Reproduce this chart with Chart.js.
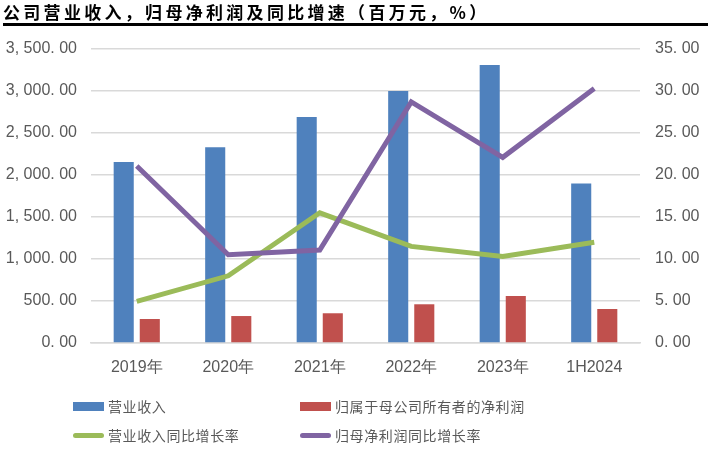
<!DOCTYPE html>
<html>
<head>
<meta charset="utf-8">
<script src="https://cdn.jsdelivr.net/npm/chart.js@4.4.1/dist/chart.umd.min.js"></script>
<style>
  body { margin: 0; background: #fff; }
  #wrap { position: relative; width: 708px; height: 454px; overflow: hidden; }
  #title {
    position: absolute; left: 3px; top: 0; width: 705px; height: 23px;
    font-family: "Noto Sans CJK SC", sans-serif; font-weight: bold; font-size: 17px;
    letter-spacing: 3.3px; line-height: 23px; color: #000;
    border-bottom: 3px solid #000;
  }
  #chartBox { position: absolute; left: 0; top: 0; width: 708px; height: 454px; }
  #legend {
    position: absolute; left: 0; top: 392px; width: 708px;
    font-family: "Noto Sans CJK SC", sans-serif; font-size: 14px; color: #595959;
    letter-spacing: 0.6px;
  }
  .item { position: absolute; height: 20px; line-height: 20px; white-space: nowrap; }
  .sw { position: absolute; left: 0; width: 31px; }
  .lbl { position: absolute; left: 35px; top: 0; }
</style>
</head>
<body>
<div id="wrap">
  <div id="chartBox"><canvas id="mainChart"></canvas></div>
  <div id="title">公司营业收入，归母净利润及同比增速（百万元，%）</div>
  <div id="legend"></div>
</div>
<script>
// categories and series
const categories = ['2019年', '2020年', '2021年', '2022年', '2023年', '1H2024'];
const revenue = [2155, 2330, 2690, 3000, 3310, 1900];          // 营业收入 (百万元)
const netProfit = [286, 321, 354, 461, 560, 405];               // 归属于母公司所有者的净利润
const revenueGrowth = [4.96, 8.0, 15.5, 11.5, 10.3, 12.0];     // 营业收入同比增长率 (%)
const profitGrowth = [21.07, 10.5, 11.07, 28.7, 22.1, 30.3];   // 归母净利润同比增长率 (%)

const leftTicks = { min: 0, max: 3500, step: 500 };
const rightTicks = { min: 0, max: 35, step: 5 };

// Excel-style number labels ("3, 500. 00")
function fmtLeft(v) {
  const s = Number(v).toLocaleString('en-US', { minimumFractionDigits: 2, maximumFractionDigits: 2 });
  return s.replace(/,/g, ', ').replace('.', '. ');
}
function fmtRight(v) {
  return Number(v).toFixed(2).replace('.', '. ');
}

const tickFont = { family: '"Liberation Sans", Arial, sans-serif', size: 16 };
const gridGray = '#d9d9d9';

const ctx = document.getElementById('mainChart').getContext('2d');
const chart = new Chart(ctx, {
  data: {
    labels: categories,
    datasets: [
      {
        type: 'line',
        label: '营业收入同比增长率',
        data: revenueGrowth,
        borderColor: '#9bbb59',
        backgroundColor: '#9bbb59',
        borderWidth: 5,
        pointRadius: 0,
        tension: 0,
        yAxisID: 'y2',
        order: 1,
      },
      {
        type: 'line',
        label: '归母净利润同比增长率',
        data: profitGrowth,
        borderColor: '#8064a2',
        backgroundColor: '#8064a2',
        borderWidth: 5,
        pointRadius: 0,
        tension: 0,
        yAxisID: 'y2',
        order: 0,
      },
      {
        type: 'bar',
        label: '营业收入',
        data: revenue,
        backgroundColor: '#4f81bd',
        yAxisID: 'y',
        categoryPercentage: 0.57,
        barPercentage: 0.77,
        order: 2,
      },
      {
        type: 'bar',
        label: '归属于母公司所有者的净利润',
        data: netProfit,
        backgroundColor: '#c0504d',
        yAxisID: 'y',
        categoryPercentage: 0.57,
        barPercentage: 0.77,
        order: 3,
      },
    ],
  },
  options: {
    responsive: true,
    maintainAspectRatio: false,
    animation: false,
    layout: { padding: { top: 49, bottom: 0, left: 0, right: 0 } },
    plugins: {
      legend: { display: false },
      tooltip: { enabled: false },
    },
    scales: {
      x: {
        grid: { display: false, drawTicks: false },
        border: { display: true, color: gridGray, width: 1.5 },
        ticks: { color: '#595959', font: tickFont, padding: 15, maxRotation: 0 },
        afterFit: function (scale) { scale.height = 111; },
      },
      y: {
        position: 'left',
        min: leftTicks.min,
        max: leftTicks.max,
        grid: { color: gridGray, lineWidth: 1.5, drawTicks: false },
        border: { display: false },
        ticks: {
          stepSize: leftTicks.step,
          color: '#595959',
          font: tickFont,
          padding: 14,
          callback: function (v) { return fmtLeft(v); },
        },
        afterFit: function (scale) { scale.width = 91; },
      },
      y2: {
        position: 'right',
        min: rightTicks.min,
        max: rightTicks.max,
        grid: { display: false, drawTicks: false },
        border: { display: false },
        ticks: {
          stepSize: rightTicks.step,
          color: '#595959',
          font: tickFont,
          padding: 15,
          callback: function (v) { return fmtRight(v); },
        },
        afterFit: function (scale) { scale.width = 68; },
      },
    },
  },
});

// Build the 2x2 legend from the chart's own datasets
const legendOrder = ['营业收入', '归属于母公司所有者的净利润', '营业收入同比增长率', '归母净利润同比增长率'];
const legendPos = [[73, 4], [300, 4], [73, 33], [300, 33]];
const legendEl = document.getElementById('legend');
legendOrder.forEach(function (name, i) {
  const ds = chart.data.datasets.find(function (d) { return d.label === name; });
  const item = document.createElement('div');
  item.className = 'item';
  item.style.left = legendPos[i][0] + 'px';
  item.style.top = legendPos[i][1] + 'px';
  const sw = document.createElement('span');
  sw.className = 'sw';
  if (ds.type === 'bar') {
    sw.style.top = '6px';
    sw.style.height = '9px';
    sw.style.background = ds.backgroundColor;
  } else {
    sw.style.top = '8px';
    sw.style.height = '5px';
    sw.style.borderRadius = '3px';
    sw.style.background = ds.borderColor;
  }
  const lbl = document.createElement('span');
  lbl.className = 'lbl';
  lbl.textContent = name;
  item.appendChild(sw);
  item.appendChild(lbl);
  legendEl.appendChild(item);
});
</script>
</body>
</html>
